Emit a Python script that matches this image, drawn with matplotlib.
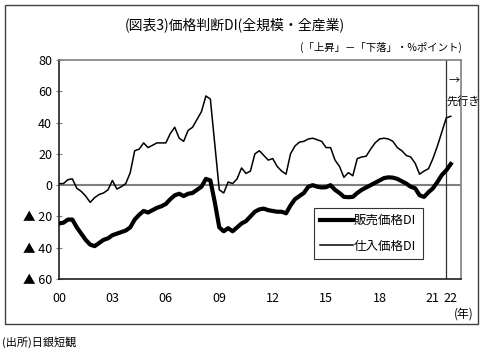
import matplotlib
matplotlib.use("Agg")
import matplotlib.pyplot as plt
from matplotlib.patches import Rectangle

plt.rcParams["font.family"] = ["Noto Sans CJK JP", "DejaVu Sans"]

# quarterly, 2000 Mar .. 2021 Dec, plus the forecast point
output_di = [
    -24.5, -24, -22, -22, -27, -31, -35, -38, -39, -37,
    -35, -34, -32, -31, -30, -29, -27, -22, -19, -16.5,
    -17.5, -16, -14.5, -13.5, -12, -9, -6.5, -5.5, -7, -5.5,
    -5, -3, -1, 4, 3, -11, -27, -29.5, -27.5, -29.5,
    -27, -24.5, -23, -20, -17, -15.5, -15, -16, -16.5, -17,
    -17, -18, -13, -9, -7, -5, -1, 0, -1, -1.5,
    -1.3, 0, -3, -5, -7.5, -7.7, -7.5, -5, -3, -1.5,
    0, 1.5, 3, 4.5, 5, 4.8, 4, 2.5, 1, -1,
    -2, -6.5, -7.5, -4.5, -2, 2, 6.5, 9.5, 13.5,
]
input_di = [
    1, 1, 3.5, 4, -2, -4, -7, -11, -8, -6,
    -5, -3, 3, -2.5, -1, 1, 8, 22, 23, 27,
    24, 25.5, 27, 27, 27, 33, 37, 30, 28, 35,
    37, 42, 47, 57, 55, 26, -3, -5, 2, 1,
    4, 11, 7.5, 9, 20, 22, 19, 16, 17, 12,
    9, 7, 20, 25, 27.5, 28, 29.5, 30, 29, 28,
    24, 24, 16, 12, 5, 8, 6, 17, 18, 18.5,
    23, 27, 29.5, 30, 29.5, 28, 24, 22, 19, 18,
    14, 7, 9, 10.5, 17, 25, 34, 43, 44,
]
tick_pos = [0, 12, 24, 36, 48, 60, 72, 84, 88]
tick_labels = ["00", "03", "06", "09", "12", "15", "18", "21", "22"]
y_ticks = [80, 60, 40, 20, 0, -20, -40, -60]
y_labels = ["80", "60", "40", "20", "0", "▲ 20", "▲ 40", "▲ 60"]
forecast_start = 87

W, H = 492, 351
fig = plt.figure(figsize=(W / 100, H / 100), dpi=100)

# outer frame
fig.patches.append(Rectangle((5 / W, 1 - 324 / H), 473 / W, 319 / H,
                             transform=fig.transFigure, fill=False,
                             edgecolor="#404040", linewidth=1.0))

ax = fig.add_axes([59 / W, 1 - 279 / H, 402 / W, 219 / H])
x = list(range(len(output_di)))
ax.axhline(0, color="#808080", linewidth=1.5, zorder=1)
ax.axvline(forecast_start, color="#303030", linewidth=0.9, zorder=1)
ax.plot(x, output_di, color="black", linewidth=3.0, label="販売価格DI",
        solid_joinstyle="round", zorder=3)
ax.plot(x, input_di, color="black", linewidth=1.1, label="仕入価格DI", zorder=3)

ax.set_xlim(0, 90.3)
ax.set_ylim(-60, 80)
ax.set_yticks(y_ticks)
ax.set_yticklabels(y_labels, fontsize=9)
ax.set_xticks(tick_pos)
ax.set_xticklabels(tick_labels, fontsize=9)
ax.tick_params(axis="y", direction="inout", length=4, color="#808080", pad=3)
ax.tick_params(axis="x", length=0, pad=9)
for side in ("top", "right"):
    ax.spines[side].set_color("#808080")
    ax.spines[side].set_linewidth(1.2)
for side in ("left", "bottom"):
    ax.spines[side].set_color("#202020")
    ax.spines[side].set_linewidth(1.2)

leg = ax.legend(loc="upper left", bbox_to_anchor=(255 / 402, 1 - 148 / 219),
                fontsize=9, frameon=True, fancybox=False, handlelength=2.6,
                handletextpad=0.1, borderpad=0.5, labelspacing=1.0,
                borderaxespad=0)
leg.get_frame().set_edgecolor("black")
leg.get_frame().set_linewidth(0.8)

fig.text(235 / W, 1 - 25 / H, "(図表3)価格判断DI(全規模・全産業)",
         ha="center", va="center", fontsize=10)
fig.text(462 / W, 1 - 47 / H, "(「上昇」－「下落」・%ポイント)",
         ha="right", va="center", fontsize=7.5)
fig.text(449 / W, 1 - 81 / H, "→", ha="left", va="center", fontsize=8)
fig.text(447 / W, 1 - 101 / H, "先行き", ha="left", va="center", fontsize=8)
fig.text(474 / W, 1 - 314 / H, "(年)", ha="right", va="center", fontsize=8.5)
fig.text(2 / W, 1 - 342 / H, "(出所)日銀短観", ha="left", va="center", fontsize=8)

fig.savefig("out.png", dpi=100)
